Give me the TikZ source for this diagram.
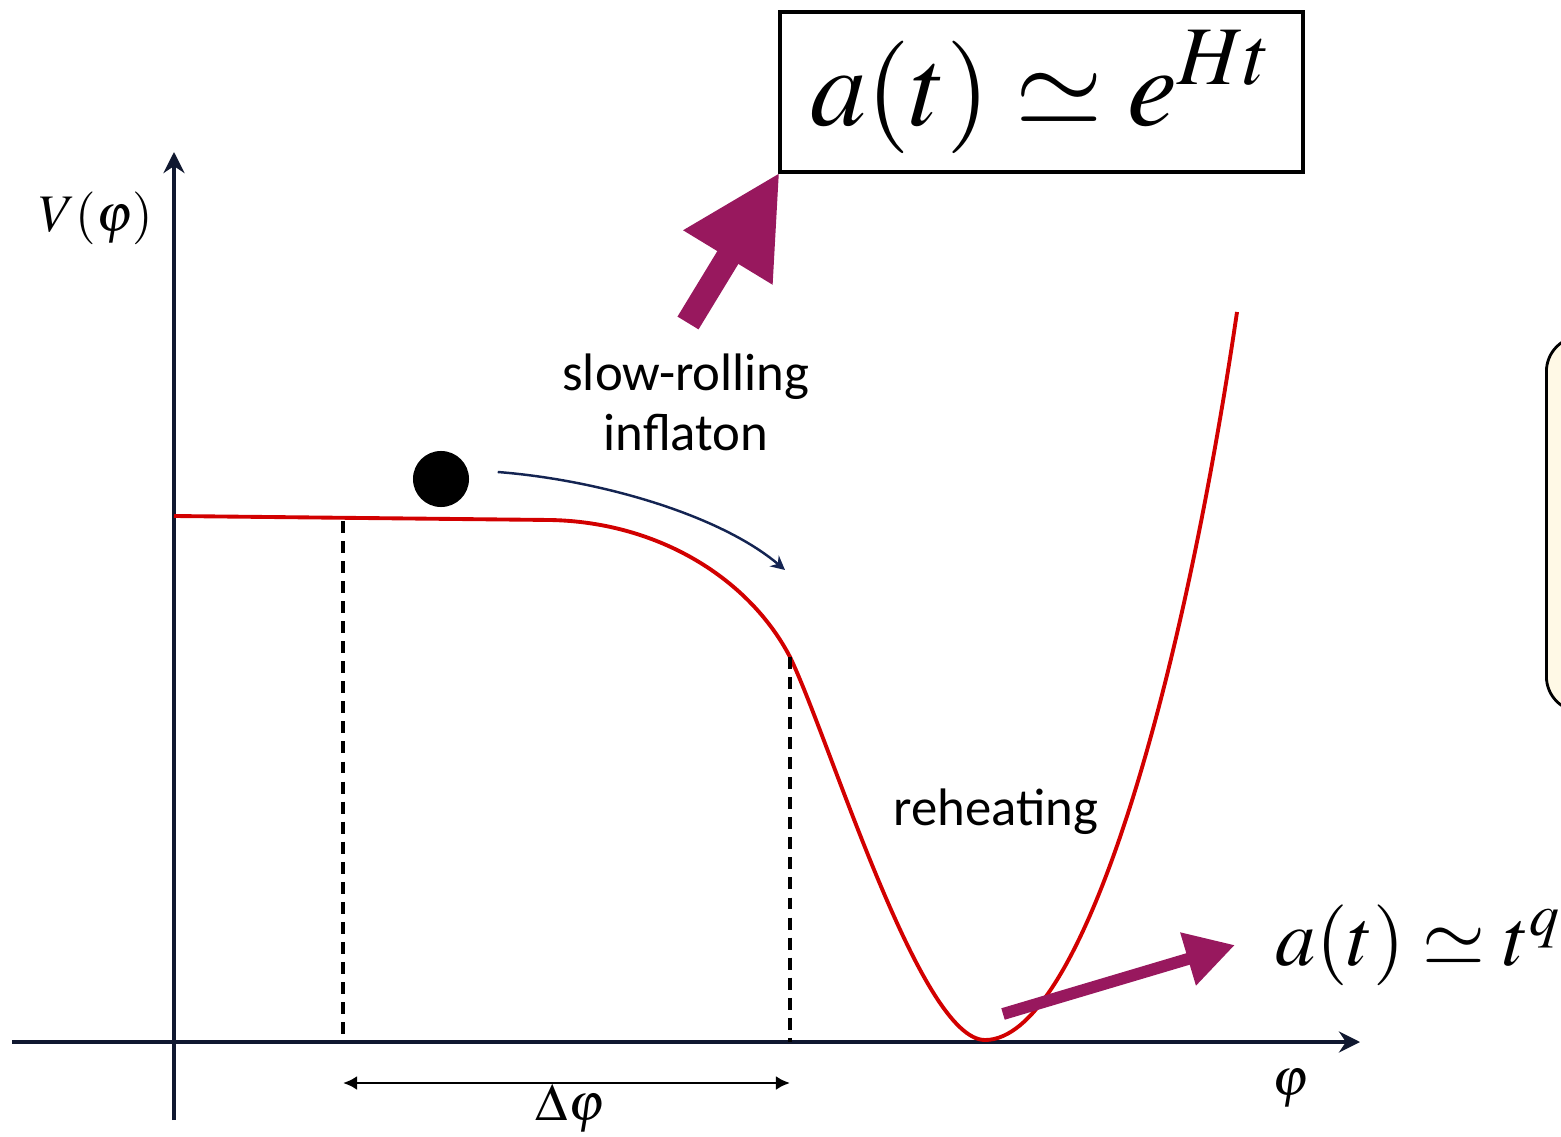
\documentclass[tikz,border=0pt]{standalone}
\usepackage{fix-cm}
\usepackage{mathptmx}
\usepackage[no-math]{fontspec}
\newfontfamily\calib{Carlito}
\usetikzlibrary{arrows.meta,positioning,calc}

\definecolor{axisnavy}{RGB}{16,24,48}
\definecolor{potred}{RGB}{210,0,0}
\definecolor{plum}{RGB}{152,24,94}
\definecolor{rollnavy}{RGB}{20,36,82}
\definecolor{cream}{RGB}{255,249,230}

\begin{document}
\begin{tikzpicture}[
  x=0.01cm, y=-0.01cm,
  phiaxis/.style={line width=1pt, axisnavy, -{Stealth[length=6pt,width=6pt,inset=2pt]}},
  potential/.style={line width=1.1pt, potred},
  guide/.style={line width=0.9pt, dash pattern=on 3.4pt off 2.3pt},
  deltaspan/.style={line width=0.8pt, {Latex[length=4pt,width=4pt]}-{Latex[length=4pt,width=4pt]}},
  roll/.style={line width=0.7pt, rollnavy, -{Stealth[length=4pt,width=4pt]}},
  bigarrow/.style={plum, line width=7pt, -{Triangle[length=1.0cm,width=0.97cm]}},
  smallarrow/.style={plum, line width=3.4pt, -{Triangle[length=0.49cm,width=0.52cm]}},
  lbl/.style={font=\fontsize{15}{17}\selectfont\calib, align=center},
  mathlbl/.style={font=\fontsize{15}{18}\selectfont},
  eqbox/.style={draw, line width=1.2pt, outer sep=0pt, minimum width=5.23cm, minimum height=1.6cm, font=\fontsize{32}{36}\selectfont},
  notebox/.style={draw, line width=0.8pt, fill=cream, rounded corners=0.35cm, minimum width=3cm, minimum height=3.75cm}
]
\useasboundingbox (0,0) rectangle (1561,1137);

% note box cut by the right edge
\begin{scope}
  \clip (0,0) rectangle (1561,1137);
  \node[notebox, anchor=north west] (note) at (1545,335) {};
\end{scope}

% axes
\coordinate (xmin) at (12,1042);
\coordinate (xmax) at (1360,1042);
\coordinate (ymin) at (174,1120);
\coordinate (ymax) at (174,152);
\draw[phiaxis] (xmin) -- (xmax);
\draw[phiaxis] (ymin) -- (ymax);
\node[mathlbl] (vlabel) at (96,218) {$V(\varphi)$};
\node[mathlbl] (philabel) at (1291,1088) {$\varphi$};

% potential
\draw[potential] (174,516) -- (550,520)
  .. controls (660,522) and (750,580) .. (790,657)
  .. controls (830,740) and (920,1040) .. (985,1040)
  .. controls (1080,1040) and (1180,700) .. (1237,312);

% field range
\coordinate (d1top) at (343,521);
\coordinate (d1bot) at (343,1042);
\coordinate (d2top) at (790,657);
\coordinate (d2bot) at (790,1042);
\draw[guide] (d1top) -- (d1bot);
\draw[guide] (d2top) -- (d2bot);
\coordinate (dl) at (343,1083);
\coordinate (dr) at (790,1083);
\draw[deltaspan] (dl) -- (dr);
\node[mathlbl] (dphi) at (570,1108) {$\Delta\varphi$};

% inflaton
\node[circle, fill=black, minimum size=0.56cm, inner sep=0] (ball) at (441,479) {};
\coordinate (roll1) at (785,570);
\draw[roll] ([xshift=0.28cm,yshift=0.07cm]ball.east) .. controls (600,480) and (720,515) .. (roll1);
\node[lbl] (slow) at (686,402) {slow-rolling\\inflaton};
\node[lbl] (reheat) at (996,812) {reheating};

% expansion laws
\node[eqbox] (eHt) at (1041.5,92) {$a(t)\simeq e^{Ht}$};
\coordinate (infl0) at (688,323);
\draw[bigarrow] (infl0) -- (eHt.south west);

\coordinate (mq0) at (1003,1014);
\coordinate (tqtip) at (1235,945);
\draw[smallarrow] (mq0) -- (tqtip);
\node[font=\fontsize{23}{26}\selectfont, inner sep=0, right=0.4cm of tqtip] (tq) {$a(t)\simeq t^{q}$};

\end{tikzpicture}
\end{document}
